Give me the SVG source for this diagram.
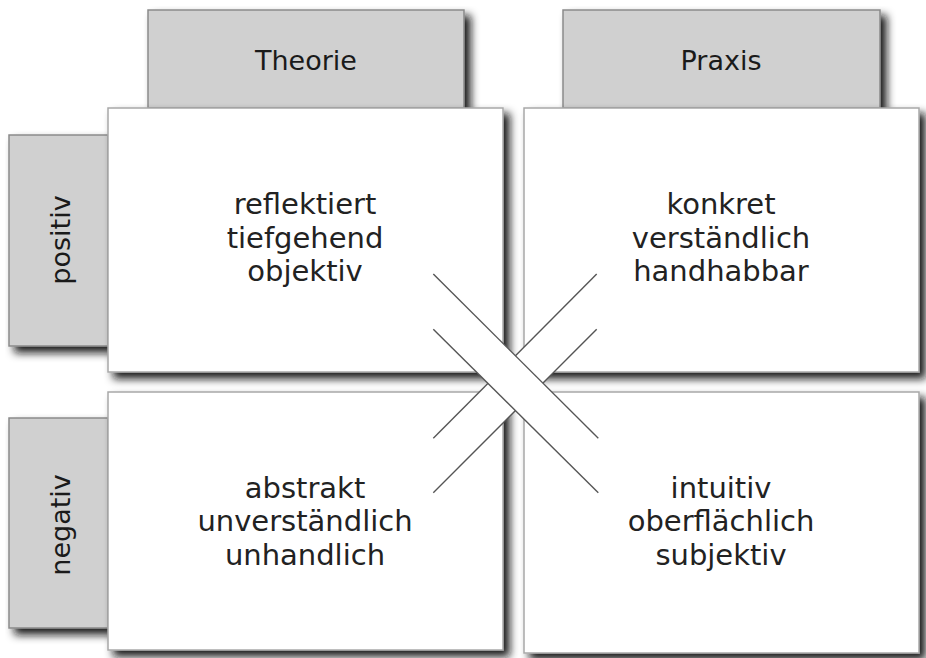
<svg xmlns="http://www.w3.org/2000/svg" width="926" height="658" viewBox="0 0 926 658">
  <defs>
    <filter id="shadow" x="-10%" y="-10%" width="130%" height="130%">
      <feGaussianBlur in="SourceAlpha" stdDeviation="4"/>
      <feOffset dx="6" dy="6" result="b"/>
      <feFlood flood-color="#111111" flood-opacity="0.95"/>
      <feComposite in2="b" operator="in"/>
      <feMerge>
        <feMergeNode/>
        <feMergeNode in="SourceGraphic"/>
      </feMerge>
    </filter>
  </defs>
  <style>
    .tab { fill: #d0d0d0; stroke: #8a8a8a; stroke-width: 1.5; filter: url(#shadow); }
    .panel { fill: #ffffff; stroke: #a8a8a8; stroke-width: 1.5; filter: url(#shadow); }
    .tabtxt { font-family: "DejaVu Sans", Verdana, sans-serif; font-size: 27px; fill: #1a1a1a; text-anchor: middle; }
    .body { font-family: "DejaVu Sans", Verdana, sans-serif; font-size: 29px; fill: #222222; text-anchor: middle; }
    .band { fill: #ffffff; stroke: none; }
    .edge { stroke: #555555; stroke-width: 1.4; fill: none; }
  </style>
  <rect width="926" height="658" fill="#ffffff"/>

  <g id="tab-theorie">
    <rect class="tab" x="148" y="10" width="316" height="98"/>
    <text class="tabtxt" x="306" y="70">Theorie</text>
  </g>
  <g id="tab-praxis">
    <rect class="tab" x="563" y="10" width="317" height="98"/>
    <text class="tabtxt" x="721" y="70">Praxis</text>
  </g>
  <g id="tab-positiv">
    <rect class="tab" x="9" y="135" width="99" height="211"/>
    <text class="tabtxt" transform="translate(70,240) rotate(-90)">positiv</text>
  </g>
  <g id="tab-negativ">
    <rect class="tab" x="9" y="418" width="99" height="210"/>
    <text class="tabtxt" transform="translate(70,525) rotate(-90)">negativ</text>
  </g>

  <g id="panel-theorie-positiv">
    <rect class="panel" x="108" y="108" width="395" height="264"/>
    <text class="body" x="305" y="214">reflektiert</text>
    <text class="body" x="305" y="248">tiefgehend</text>
    <text class="body" x="305" y="281">objektiv</text>
  </g>
  <g id="panel-praxis-positiv">
    <rect class="panel" x="524" y="108" width="395" height="264"/>
    <text class="body" x="721" y="214">konkret</text>
    <text class="body" x="721" y="248">verständlich</text>
    <text class="body" x="721" y="281">handhabbar</text>
  </g>
  <g id="panel-theorie-negativ">
    <rect class="panel" x="108" y="392" width="395" height="258"/>
    <text class="body" x="305" y="498">abstrakt</text>
    <text class="body" x="305" y="531">unverständlich</text>
    <text class="body" x="305" y="565">unhandlich</text>
  </g>
  <g id="panel-praxis-negativ">
    <rect class="panel" x="524" y="392" width="395" height="261"/>
    <text class="body" x="721" y="498">intuitiv</text>
    <text class="body" x="721" y="531">oberflächlich</text>
    <text class="body" x="721" y="565">subjektiv</text>
  </g>

  <g id="connectors">
    <polygon class="band" points="596.7,274 596.7,329.3 433.3,492.7 433.3,438.3"/>
    <line class="edge" x1="596.7" y1="274" x2="433.3" y2="438.3"/>
    <line class="edge" x1="596.7" y1="329.3" x2="433.3" y2="492.7"/>
    <polygon class="band" points="433.3,274 598.3,438.3 598.3,492.7 433.3,329.3"/>
    <line class="edge" x1="433.3" y1="274" x2="598.3" y2="438.3"/>
    <line class="edge" x1="433.3" y1="329.3" x2="598.3" y2="492.7"/>
  </g>
</svg>
